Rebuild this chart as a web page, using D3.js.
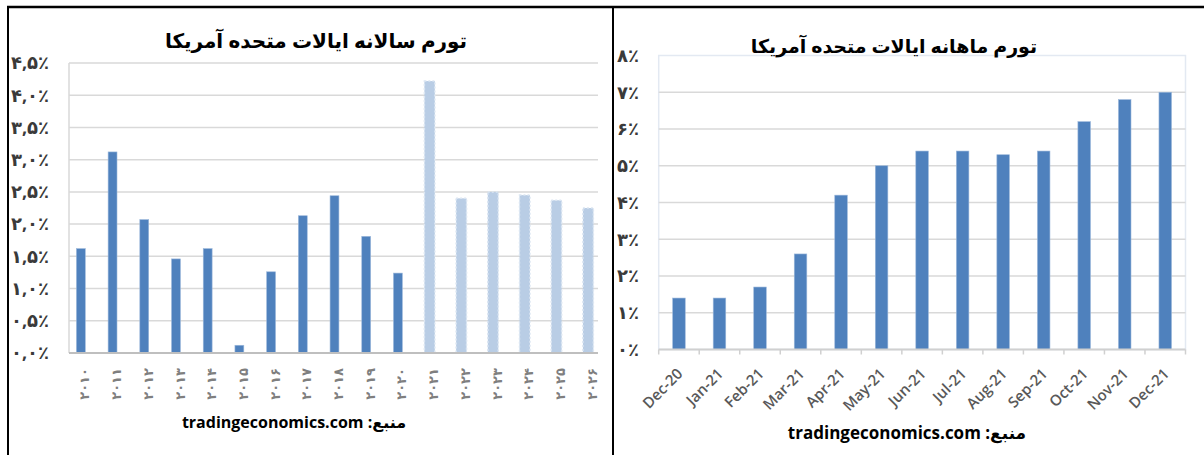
<!DOCTYPE html>
<html>
<head>
<meta charset="utf-8">
<script src="https://cdn.jsdelivr.net/npm/d3@7/dist/d3.min.js"></script>
<style>
  body { margin: 0; background: #fff; }
  svg { display: block; font-family: "Open Sans", "DejaVu Sans", sans-serif; }
</style>
</head>
<body>
<svg width="1204" height="455"></svg>
<script>
// yearly chart data (2010 - 2026, last six are forecasts)
const years = ['۲۰۱۰', '۲۰۱۱', '۲۰۱۲', '۲۰۱۳', '۲۰۱۴', '۲۰۱۵', '۲۰۱۶', '۲۰۱۷', '۲۰۱۸',
  '۲۰۱۹', '۲۰۲۰', '۲۰۲۱', '۲۰۲۲', '۲۰۲۳', '۲۰۲۴', '۲۰۲۵', '۲۰۲۶'];
const yearlyInflation = [1.62, 3.12, 2.07, 1.46, 1.62, 0.12, 1.26, 2.13, 2.44,
  1.81, 1.24, 4.22, 2.40, 2.50, 2.45, 2.37, 2.25];
const forecastFrom = '۲۰۲۱';
const yearlyTicks = [0, 0.5, 1, 1.5, 2, 2.5, 3, 3.5, 4, 4.5];
const yearlyTickLabels = ['۰,۰٪', '۰,۵٪', '۱,۰٪', '۱,۵٪', '۲,۰٪', '۲,۵٪', '۳,۰٪', '۳,۵٪', '۴,۰٪', '۴,۵٪'];

// monthly chart data
const months = ['Dec-20', 'Jan-21', 'Feb-21', 'Mar-21', 'Apr-21', 'May-21', 'Jun-21',
  'Jul-21', 'Aug-21', 'Sep-21', 'Oct-21', 'Nov-21', 'Dec-21'];
const monthlyInflation = [1.4, 1.4, 1.7, 2.6, 4.2, 5.0, 5.4, 5.4, 5.3, 5.4, 6.2, 6.8, 7.0];
const monthlyTicks = [0, 1, 2, 3, 4, 5, 6, 7, 8];
const monthlyTickLabels = ['۰٪', '۱٪', '۲٪', '۳٪', '۴٪', '۵٪', '۶٪', '۷٪', '۸٪'];

const titles = ['تورم سالانه ایالات متحده آمریکا', 'تورم ماهانه ایالات متحده آمریکا'];
const source = 'منبع: tradingeconomics.com';

const svg = d3.select('svg');

// frame lines round the two panels
svg.append('line').attr('x1', 7).attr('x2', 1204).attr('y1', 7).attr('y2', 7)
  .attr('stroke', '#000').attr('stroke-width', 2.5);
svg.append('line').attr('x1', 8).attr('x2', 8).attr('y1', 6).attr('y2', 455)
  .attr('stroke', '#000').attr('stroke-width', 2);
svg.append('line').attr('x1', 613).attr('x2', 613).attr('y1', 6).attr('y2', 455)
  .attr('stroke', '#000').attr('stroke-width', 2);

// ---------- left chart: yearly ----------
const x1 = d3.scaleBand().domain(years).range([65, 604]).paddingInner(0.72).paddingOuter(0.36);
const y1 = d3.scaleLinear().domain([0, 4.5]).range([353, 63]);

svg.append('g').selectAll('line').data(yearlyTicks.slice(1)).enter().append('line')
  .attr('x1', 69).attr('x2', 598)
  .attr('y1', d => y1(d)).attr('y2', d => y1(d))
  .attr('stroke', '#d9d9d9').attr('stroke-width', 1.5);

svg.append('line').attr('x1', 69).attr('x2', 69).attr('y1', y1(4.5)).attr('y2', y1(0))
  .attr('stroke', '#d9d9d9').attr('stroke-width', 1.5);

svg.append('g').selectAll('text').data(yearlyTicks).enter().append('text')
  .attr('x', 49).attr('y', d => y1(d)).attr('dy', '0.35em')
  .attr('text-anchor', 'end')
  .attr('font-size', 18).attr('font-weight', 'bold').attr('fill', '#3a3a3a')
  .text((d, i) => yearlyTickLabels[i]);

const forecastIndex = years.indexOf(forecastFrom);
const yearly = years.map((yr, i) => ({ yr, v: yearlyInflation[i], forecast: i >= forecastIndex }));

svg.append('g').selectAll('rect').data(yearly).enter().append('rect')
  .attr('x', d => x1(d.yr) + (d.forecast ? -0.8 : 0))
  .attr('width', d => x1.bandwidth() + (d.forecast ? 1.6 : 0))
  .attr('y', d => y1(d.v))
  .attr('height', d => y1(0) - y1(d.v))
  .attr('fill', d => d.forecast ? '#b9cde5' : '#4f81bd')
  .attr('stroke', d => d.forecast ? '#dce6f2' : '#9cb8db')
  .attr('stroke-width', d => d.forecast ? 1.5 : 0.6)
  .attr('stroke-dasharray', d => d.forecast ? '2,2' : null);

svg.append('line').attr('x1', 69).attr('x2', 598).attr('y1', y1(0)).attr('y2', y1(0))
  .attr('stroke', '#bfbfbf').attr('stroke-width', 2);

// rotated year labels
svg.append('g').selectAll('text').data(years).enter().append('text')
  .attr('transform', d => `translate(${x1(d) + x1.bandwidth() / 2 + 4},368) rotate(-90)`)
  .attr('text-anchor', 'end').attr('dy', '0.35em')
  .attr('font-size', 13).attr('font-weight', 'bold').attr('fill', '#7f7f7f')
  .attr('letter-spacing', 3)
  .text(d => d);

svg.append('text').attr('x', 316).attr('y', 48).attr('text-anchor', 'middle')
  .attr('font-size', 20).attr('font-weight', 'bold').attr('fill', '#000')
  .text(titles[0]);

svg.append('text').attr('x', 294).attr('y', 428).attr('text-anchor', 'middle')
  .attr('direction', 'rtl')
  .attr('font-size', 16).attr('font-weight', 'bold').attr('fill', '#000')
  .text(source);

// ---------- right chart: monthly ----------
const x2 = d3.scaleBand().domain(months).range([658.7, 1185.5]).paddingInner(0.69).paddingOuter(0.345);
const y2 = d3.scaleLinear().domain([0, 8]).range([349.5, 55.5]);

svg.append('rect').attr('x', 658.7).attr('y', y2(8))
  .attr('width', 1185.5 - 658.7).attr('height', y2(0) - y2(8))
  .attr('fill', 'none').attr('stroke', '#e3e9f2').attr('stroke-width', 1.5);

svg.append('g').selectAll('line').data(monthlyTicks.slice(1, -1)).enter().append('line')
  .attr('x1', 658.7).attr('x2', 1185.5)
  .attr('y1', d => y2(d)).attr('y2', d => y2(d))
  .attr('stroke', '#d9d9d9').attr('stroke-width', 1.5);

svg.append('g').selectAll('text').data(monthlyTicks).enter().append('text')
  .attr('x', 639).attr('y', d => y2(d)).attr('dy', '0.35em')
  .attr('text-anchor', 'end')
  .attr('font-size', 18).attr('font-weight', 'bold').attr('fill', '#3a3a3a')
  .text((d, i) => monthlyTickLabels[i]);

svg.append('g').selectAll('rect').data(months).enter().append('rect')
  .attr('x', d => x2(d))
  .attr('width', x2.bandwidth())
  .attr('y', (d, i) => y2(monthlyInflation[i]))
  .attr('height', (d, i) => y2(0) - y2(monthlyInflation[i]))
  .attr('fill', '#4f81bd').attr('stroke', '#9cb8db').attr('stroke-width', 0.6);

// axis line with ticks on category boundaries
const step2 = x2.step();
const bounds = months.map(d => x2(d) + x2.bandwidth() / 2 - step2 / 2)
  .concat([x2(months[months.length - 1]) + x2.bandwidth() / 2 + step2 / 2]);
svg.append('line').attr('x1', 658.7).attr('x2', 1185.5).attr('y1', y2(0)).attr('y2', y2(0))
  .attr('stroke', '#d0d0d0').attr('stroke-width', 2);
svg.append('g').selectAll('line').data(bounds).enter().append('line')
  .attr('x1', d => d).attr('x2', d => d)
  .attr('y1', y2(0)).attr('y2', y2(0) + 5)
  .attr('stroke', '#d0d0d0').attr('stroke-width', 1.5);

svg.append('g').selectAll('text').data(months).enter().append('text')
  .attr('transform', d => `translate(${x2(d) + x2.bandwidth() / 2 + 1},371) rotate(-45)`)
  .attr('text-anchor', 'end').attr('dy', '0.35em')
  .attr('font-size', 15).attr('font-weight', 600).attr('fill', '#595959')
  .text(d => d);

svg.append('text').attr('x', 894).attr('y', 53).attr('text-anchor', 'middle')
  .attr('font-size', 19).attr('font-weight', 'bold').attr('fill', '#000')
  .text(titles[1]);

svg.append('text').attr('x', 907).attr('y', 439).attr('text-anchor', 'middle')
  .attr('direction', 'rtl')
  .attr('font-size', 17).attr('font-weight', 'bold').attr('fill', '#000')
  .text(source);
</script>
</body>
</html>
